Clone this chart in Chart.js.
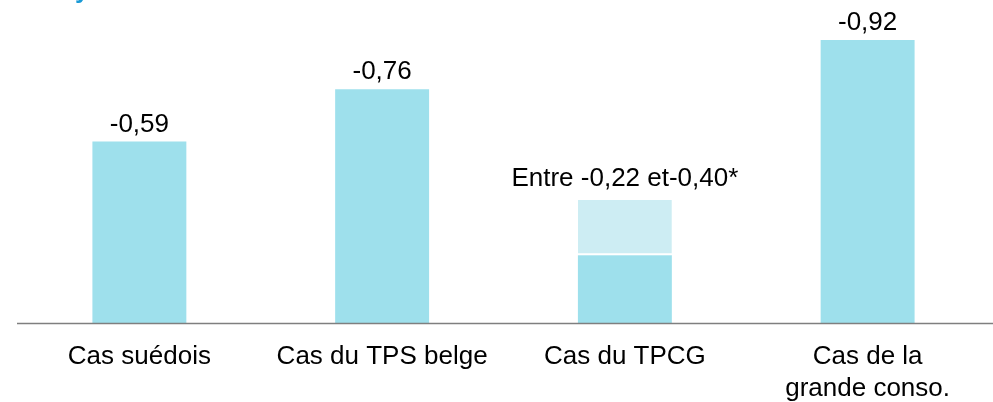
<!DOCTYPE html>
<html>
<head>
<meta charset="utf-8">
<script src="https://cdn.jsdelivr.net/npm/chart.js@4/dist/chart.umd.min.js"></script>
<style>
  html, body { margin: 0; padding: 0; background: #fff; }
  #wrap { width: 993px; height: 402px; position: relative; }
</style>
</head>
<body>
<div id="wrap"><canvas id="c"></canvas></div>
<script>
const categories = ['Cas suédois', 'Cas du TPS belge', 'Cas du TPCG', ['Cas de la', 'grande conso.']];
const baseValues = [-0.59, -0.76, -0.22, -0.92];
const rangeLow = [null, null, -0.22, null];
const rangeHigh = [null, null, -0.40, null];
const valueLabels = ['-0,59', '-0,76', 'Entre -0,22 et-0,40*', '-0,92'];
const titleText = 'y';

const rangeData = rangeLow.map((v, i) => (v === null ? null : [v, rangeHigh[i]]));

const FONT = '"Liberation Sans", Arial, sans-serif';

const decor = {
  id: 'decor',
  afterDatasetsDraw(chart) {
    const ctx = chart.ctx;
    const y = chart.scales.y;
    const area = chart.chartArea;
    // axis line
    const y0 = Math.round(y.getPixelForValue(0)) + 0.5;
    ctx.save();
    ctx.strokeStyle = '#7f7f7f';
    ctx.lineWidth = 1.5;
    ctx.beginPath();
    ctx.moveTo(area.left - 1, y0);
    ctx.lineTo(chart.width, y0);
    ctx.stroke();
    // value labels
    ctx.fillStyle = '#000';
    ctx.font = '26px ' + FONT;
    ctx.textAlign = 'center';
    ctx.textBaseline = 'alphabetic';
    const metaBase = chart.getDatasetMeta(1);
    const metaRange = chart.getDatasetMeta(0);
    valueLabels.forEach((lab, i) => {
      let bar = metaBase.data[i];
      let top = bar.y;
      let gap = 10;
      if (rangeData[i] !== null) {
        top = Math.min(top, metaRange.data[i].y);
        gap = 14;
      }
      ctx.fillText(lab, bar.x, top - gap);
    });
    // cut-off title fragment
    ctx.fillStyle = '#1a9ad6';
    ctx.font = 'bold 26px ' + FONT;
    ctx.textAlign = 'left';
    ctx.fillText(titleText, 75, -2);
    ctx.restore();
  }
};

new Chart(document.getElementById('c'), {
  type: 'bar',
  data: {
    labels: categories,
    datasets: [
      {
        data: rangeData,
        backgroundColor: '#cdedf3',
        borderColor: '#ffffff',
        borderWidth: { top: 0, left: 0, right: 0, bottom: 2 },
        borderSkipped: false,
        grouped: false,
        categoryPercentage: 1,
        barPercentage: 0.387
      },
      {
        data: baseValues,
        backgroundColor: '#9ee0ec',
        borderWidth: 0,
        grouped: false,
        categoryPercentage: 1,
        barPercentage: 0.387
      }
    ]
  },
  options: {
    responsive: true,
    maintainAspectRatio: false,
    animation: false,
    layout: { padding: { left: 18, right: 4, top: 0, bottom: 0 } },
    plugins: { legend: { display: false }, tooltip: { enabled: false }, title: { display: false } },
    scales: {
      x: {
        grid: { display: false, drawTicks: false },
        border: { display: false },
        ticks: {
          color: '#000',
          font: { family: FONT, size: 26, lineHeight: 1.23 },
          padding: 18,
          maxRotation: 0,
          autoSkip: false
        },
        afterFit: (scale) => { scale.height = 79; }
      },
      y: {
        display: false,
        reverse: true,
        min: -1.05,
        max: 0
      }
    }
  },
  plugins: [decor]
});
</script>
</body>
</html>
